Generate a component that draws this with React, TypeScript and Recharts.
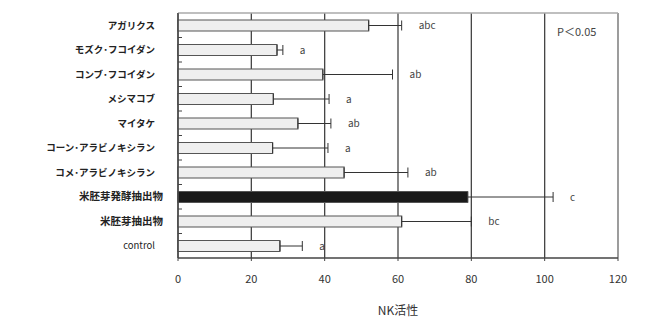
import React from "react";
import {
  Bar,
  BarChart,
  CartesianGrid,
  Cell,
  ErrorBar,
  LabelList,
  XAxis,
  YAxis,
} from "recharts";

const categories = [
  "アガリクス",
  "モズク･フコイダン",
  "コンブ･フコイダン",
  "メシマコブ",
  "マイタケ",
  "コーン･アラビノキシラン",
  "コメ･アラビノキシラン",
  "米胚芽発酵抽出物",
  "米胚芽抽出物",
  "control",
];
const nkValues = [52, 27, 39.5, 26, 32.7, 25.8, 45.3, 79, 61, 27.8];
const nkErrors = [9, 1.6, 19, 15.2, 9, 15.1, 17.4, 23.3, 19, 6.1];
const letters = ["abc", "a", "ab", "a", "ab", "a", "ab", "c", "bc", "a"];
const highlighted = "米胚芽発酵抽出物";
const xTicks = [0, 20, 40, 60, 80, 100, 120];

const data = categories.map((name, i) => ({
  name,
  value: nkValues[i],
  err: [0, nkErrors[i]],
}));

const FONT = "'Noto Sans CJK JP', 'Noto Sans', sans-serif";

function CategoryTick(props: any) {
  const { x, y, payload, index } = props;
  const label: string = payload.value;
  const isLatin = /^[a-z]+$/.test(label);
  const isKanji = /^[\u4e00-\u9fff]+$/.test(label);
  const axisX = x + 23;
  const half = 12.25;
  return (
    <g>
      <text
        x={x + (isKanji ? 8 : 0)}
        y={y}
        dy="0.35em"
        textAnchor="end"
        fontFamily={FONT}
        fontSize={isKanji ? 10.5 : 9.5}
        fontWeight={isLatin ? 400 : 700}
        fill="#222"
      >
        {label}
      </text>
      {index > 0 && (
        <line x1={axisX} x2={axisX + 4} y1={y - half} y2={y - half} stroke="#444" />
      )}
    </g>
  );
}

function LetterLabel(props: any) {
  const { x, y, width, height, index } = props;
  const v = nkValues[index];
  const end = x + (width * (v + nkErrors[index])) / v;
  return (
    <text
      x={end + 17}
      y={y + height / 2}
      dy="0.35em"
      fontFamily={FONT}
      fontSize={10}
      fill="#444"
    >
      {letters[index]}
    </text>
  );
}

export default function App() {
  return (
    <div style={{ position: "relative", width: 656, height: 315 }}>
      <BarChart
        width={656}
        height={315}
        data={data}
        layout="vertical"
        margin={{ top: 5, right: 46, bottom: 5, left: 0 }}
      >
        <CartesianGrid horizontal={false} stroke="#444" strokeWidth={1.3} />
        <CartesianGrid
          horizontalCoordinatesGenerator={({ offset }: any) => [offset.top]}
          verticalCoordinatesGenerator={({ offset }: any) => [
            offset.left + offset.width,
          ]}
          stroke="#aaa"
          strokeWidth={1.3}
        />
        <XAxis
          type="number"
          domain={[0, 120]}
          ticks={xTicks}
          height={60}
          axisLine={{ stroke: "#444", strokeWidth: 1.3 }}
          tickLine={{ stroke: "#444" }}
          tickSize={3}
          tickMargin={14}
          tick={{ fontFamily: FONT, fontSize: 11, fill: "#333" }}
          label={{
            value: "NK活性",
            position: "insideBottom",
            offset: 3,
            fontFamily: FONT,
            fontSize: 12,
            fill: "#333",
          }}
        />
        <YAxis
          type="category"
          dataKey="name"
          width={170}
          axisLine={{ stroke: "#444", strokeWidth: 1.3 }}
          tickLine={false}
          tickSize={0}
          tickMargin={23}
          interval={0}
          tick={<CategoryTick />}
        />
        <Bar
          dataKey="value"
          barSize={11}
          stroke="#555"
          strokeWidth={1.2}
          isAnimationActive={false}
        >
          {data.map((d) => (
            <Cell key={d.name} fill={d.name === highlighted ? "#1a1a1a" : "#efefef"} />
          ))}
          <ErrorBar
            dataKey="err"
            direction="x"
            width={5}
            stroke="#333"
            strokeWidth={1}
            isAnimationActive={false}
          />
          <LabelList dataKey="value" content={<LetterLabel />} />
        </Bar>
      </BarChart>
      <div
        style={{
          position: "absolute",
          left: 549,
          top: 15,
          fontFamily: FONT,
          fontSize: 11,
          color: "#444",
          whiteSpace: "nowrap",
        }}
      >
        P＜0.05
      </div>
    </div>
  );
}
